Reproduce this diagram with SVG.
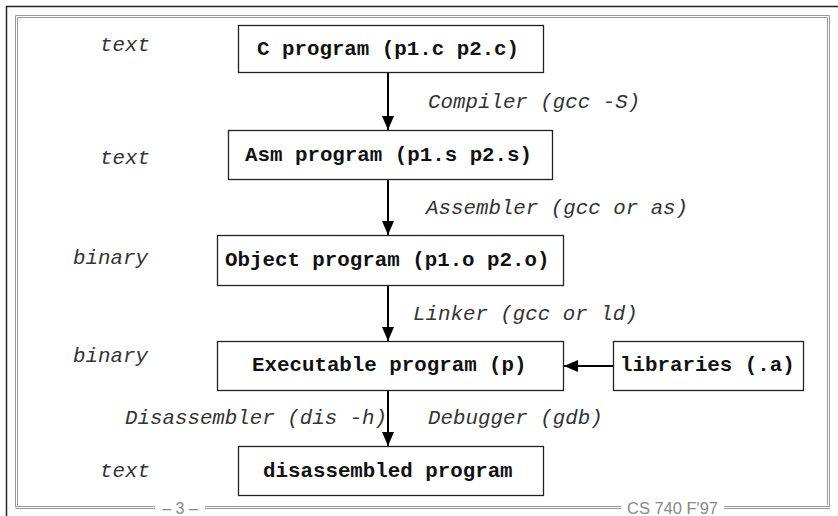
<svg xmlns="http://www.w3.org/2000/svg" width="838" height="516" viewBox="0 0 838 516">
<style>
.box{fill:#fff;stroke:#222;stroke-width:1.3}
.bt{font-family:"Liberation Mono","Courier New",monospace;font-weight:bold;font-size:20.8px;fill:#111}
.lb{font-family:"Liberation Mono","Courier New",monospace;font-style:italic;font-size:20.8px;fill:#333}
.conn{stroke:#000;stroke-width:2;fill:none;marker-end:url(#ah)}
.frame{stroke:#999;stroke-width:1;fill:none}
.ft{font-family:"Liberation Sans",Arial,sans-serif;font-size:16px;fill:#888}
</style>
<defs>
<marker id="ah" viewBox="0 0 14 12" refX="14" refY="6" markerWidth="14" markerHeight="12" markerUnits="userSpaceOnUse" orient="auto">
<path d="M0,0 L14,6 L0,12 Z" fill="#000"/>
</marker>
</defs>
<rect width="838" height="516" fill="#fff"/>
<g id="frame">
<path d="M6.5,516 V6.5 H838" stroke="#222" stroke-width="1.5" fill="none"/>
<path class="frame" d="M15.5,507 V15.5 H829.5 V507"/>
<path class="frame" d="M17.5,505 V17.5 H827.5 V505"/>
<path class="frame" d="M15.5,506.5 H155 M205,506.5 H621 M724,506.5 H830"/>
<path class="frame" d="M15.5,508.5 H155 M205,508.5 H621 M724,508.5 H830"/>
<text class="ft" x="180" y="514" text-anchor="middle">– 3 –</text>
<text class="ft" x="627" y="514" textLength="91" lengthAdjust="spacingAndGlyphs">CS 740 F'97</text>
</g>
<g id="connectors">
<line class="conn" x1="388" y1="73" x2="388" y2="130"/>
<line class="conn" x1="388" y1="179" x2="388" y2="235"/>
<line class="conn" x1="388" y1="285" x2="388" y2="341"/>
<line class="conn" x1="388" y1="390" x2="388" y2="446"/>
<line class="conn" x1="613" y1="366" x2="564" y2="366"/>
</g>
<g id="n-c"><rect class="box" x="238.5" y="25.5" width="305" height="47"/><text class="bt" x="257" y="55">C program (p1.c p2.c)</text></g>
<g id="n-asm"><rect class="box" x="228.5" y="130.5" width="324" height="49"/><text class="bt" x="245" y="161">Asm program (p1.s p2.s)</text></g>
<g id="n-obj"><rect class="box" x="217.5" y="235.5" width="346" height="50"/><text class="bt" x="225" y="266">Object program (p1.o p2.o)</text></g>
<g id="n-exe"><rect class="box" x="217.5" y="341.5" width="346" height="49"/><text class="bt" x="252" y="371">Executable program (p)</text></g>
<g id="n-lib"><rect class="box" x="613.5" y="341.5" width="190" height="49"/><text class="bt" x="620" y="371">libraries (.a)</text></g>
<g id="n-dis"><rect class="box" x="238.5" y="446.5" width="305" height="49"/><text class="bt" x="263" y="477">disassembled program</text></g>
<g id="labels">
<text class="lb" x="100" y="51">text</text>
<text class="lb" x="100" y="164">text</text>
<text class="lb" x="73" y="264">binary</text>
<text class="lb" x="73" y="362">binary</text>
<text class="lb" x="100" y="477">text</text>
<text class="lb" x="428" y="108">Compiler (gcc -S)</text>
<text class="lb" x="426" y="214">Assembler (gcc or as)</text>
<text class="lb" x="413" y="320">Linker (gcc or ld)</text>
<text class="lb" x="125" y="424">Disassembler (dis -h)</text>
<text class="lb" x="428" y="424">Debugger (gdb)</text>
</g>
</svg>
